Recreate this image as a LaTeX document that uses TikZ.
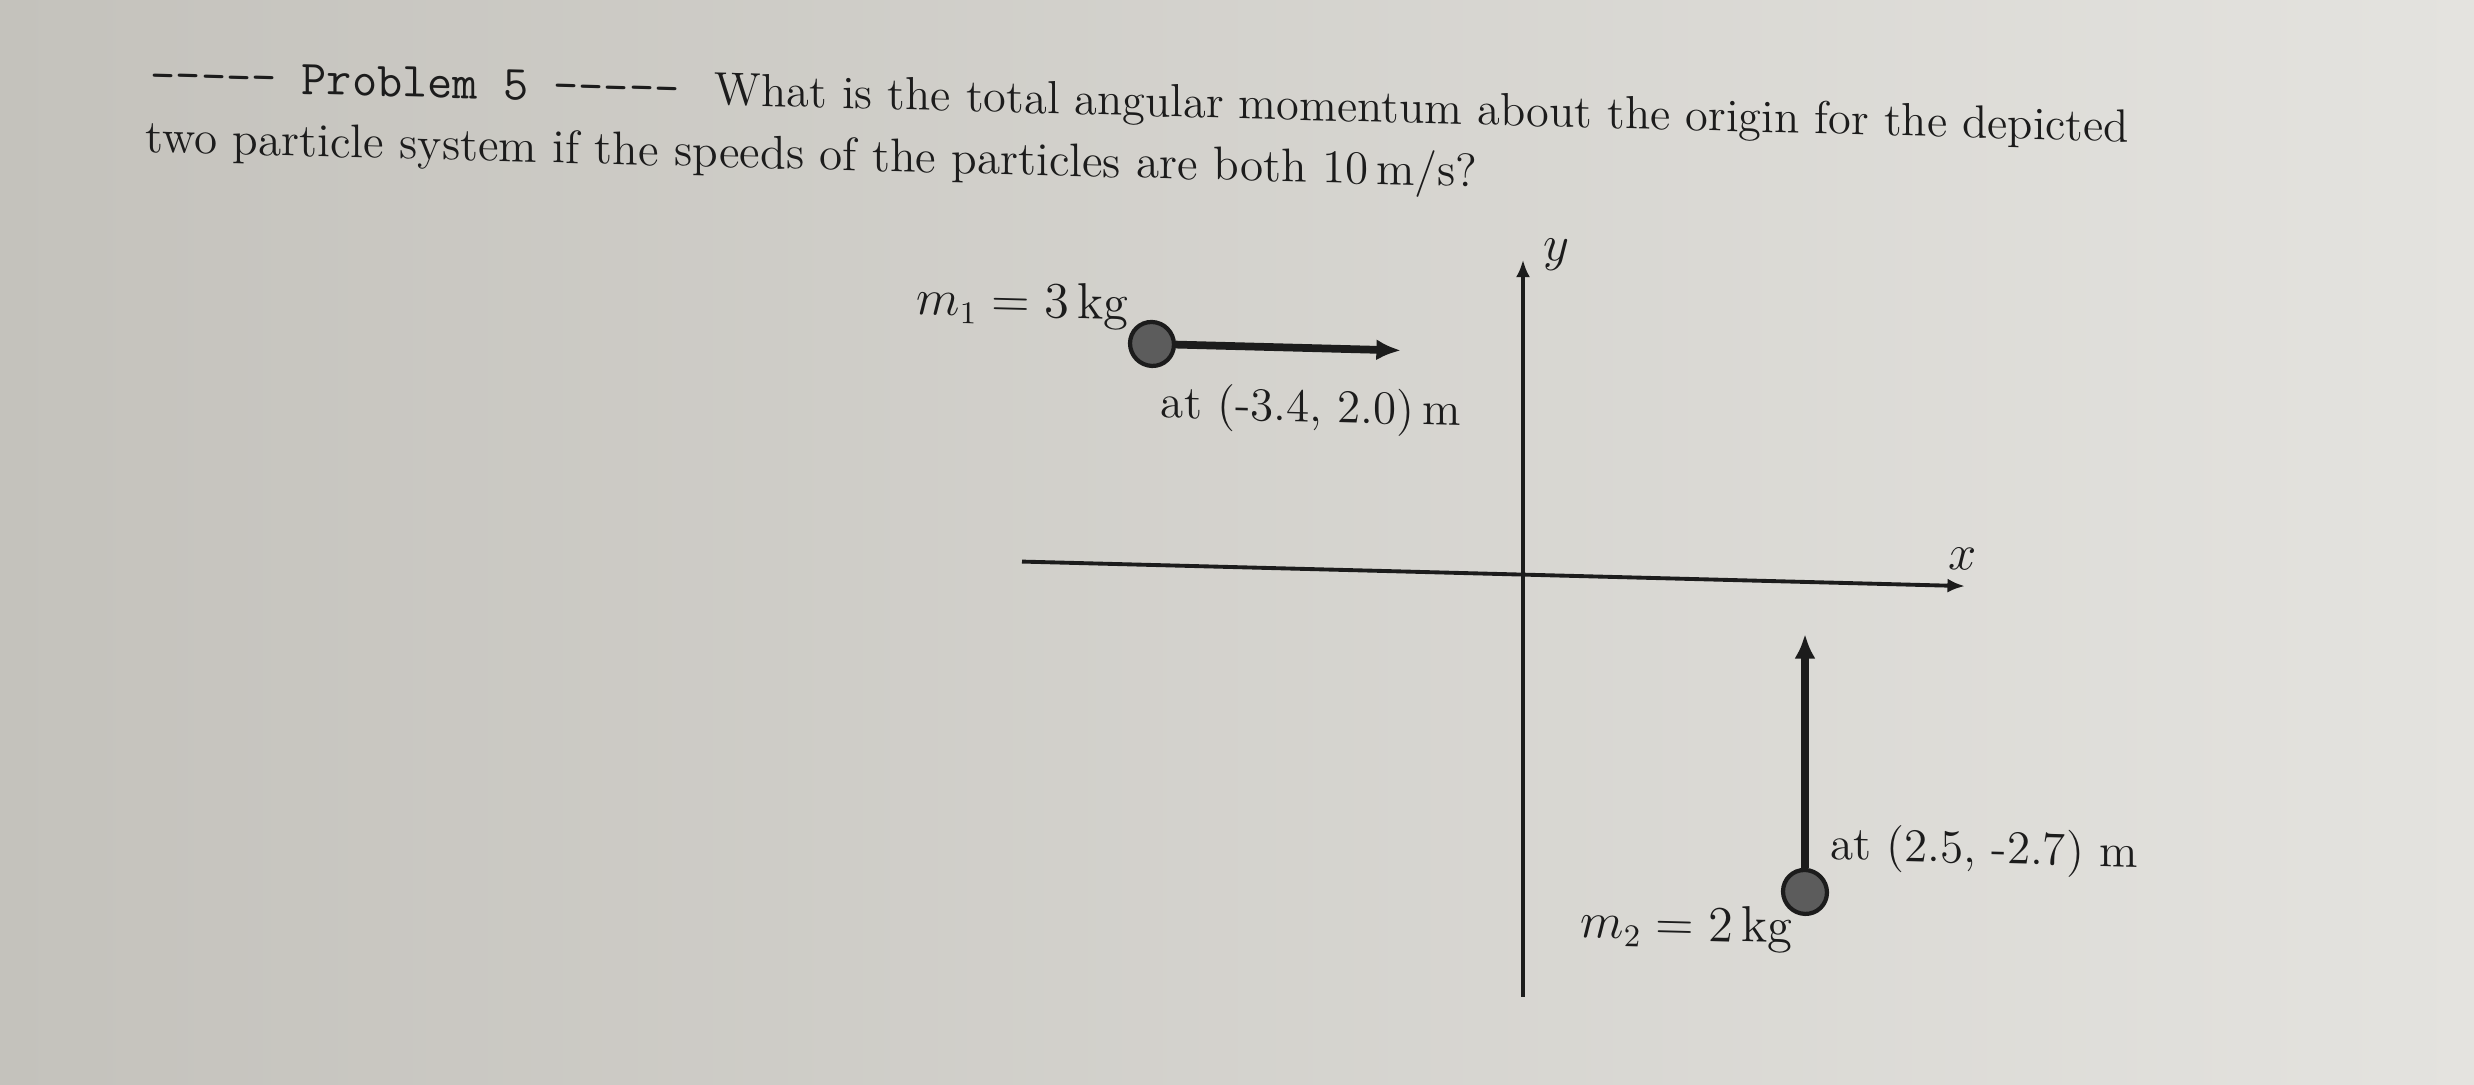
\documentclass[tikz,border=0pt]{standalone}
\usetikzlibrary{arrows.meta}
\definecolor{paperL}{RGB}{196,194,188}
\definecolor{paperR}{RGB}{228,227,223}
\definecolor{ink}{RGB}{28,28,28}
\definecolor{ballfill}{RGB}{92,92,92}
\begin{document}
\begin{tikzpicture}[x=0.01cm,y=0.01cm,
  txt/.style={inner sep=0pt, text=ink, font=\fontsize{13.4}{16}\selectfont},
  axis/.style={draw=ink, line width=1.1pt, -{Latex[length=5pt,width=4pt]}},
  vel/.style={draw=ink, line width=2.2pt, -{Latex[length=7pt,width=6pt]}},
  ball/.style={circle, draw=ink, line width=1.2pt, fill=ballfill, minimum size=12.5pt, inner sep=0pt}]
\shade[left color=paperL, right color=paperR] (0,0) rectangle (2474,-1084);
\useasboundingbox (0,0) rectangle (2474,-1084);
\begin{scope}[yslant=-0.026, transform shape]
  % title (two lines in one node)
  \node[txt, font=\fontsize{13.4}{17.64}\selectfont, align=left, anchor=north west] (title) at (150,-53)
    {{\fontsize{13.9}{17.64}\selectfont\texttt{-{}-{}-{}-{}- Problem 5 -{}-{}-{}-{}-}}\hspace{0.75em}{\fontsize{13.2}{17.64}\selectfont What is the total angular momentum about the origin for the depicted}\\
     \hspace*{-1.4pt}two particle system if the speeds of the particles are both 10\,m/s?};
  % axes
  \coordinate (xl) at (1022,-535);
  \coordinate (xr) at (1965,-535);
  \coordinate (yb) at (1523,-957);
  \coordinate (yt) at (1523,-220);
  \draw[axis] (xl) -- (xr);
  \draw[axis] (yb) -- (yt);
  \node[txt, anchor=center] (xlab) at (1963,-508) {$x$};
  \node[txt, anchor=center] (ylab) at (1556,-214) {$y$};
  % particle 1
  \node[ball] (m1) at (1152,-314) {};
  \coordinate (v1) at (1401,-314);
  \draw[vel] (m1) -- (v1);
  \node[txt] (m1lab) at (1023,-278) {$m_1 = 3\,\mathrm{kg}$};
  \node[txt] (p1lab) at (1311,-376) {at (-3.4, 2.0)\,m};
  % particle 2
  \node[ball] (m2) at (1805,-845) {};
  \coordinate (v2) at (1805,-587);
  \draw[vel] (m2) -- (v2);
  \node[txt] (m2lab) at (1687,-884) {$m_2 = 2\,\mathrm{kg}$};
  \node[txt] (p2lab) at (1984,-800) {at (2.5, -2.7) m};
\end{scope}
\end{tikzpicture}
\end{document}
